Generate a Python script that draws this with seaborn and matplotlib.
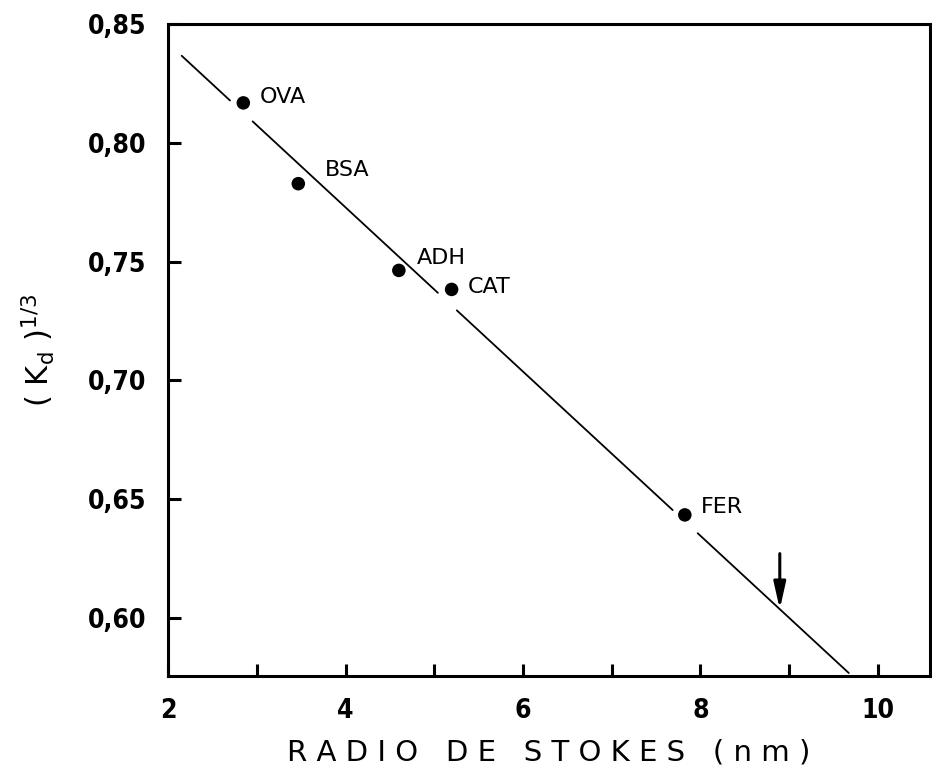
import matplotlib
matplotlib.use("Agg")
import matplotlib.pyplot as plt
from matplotlib.ticker import FixedLocator
import pandas as pd
import seaborn as sns

# Calibration proteins: Stokes radius (nm) vs cube root of Kd
proteins = ["OVA", "BSA", "ADH", "CAT", "FER"]
stokes_radius = [2.846, 3.466, 4.60, 5.195, 7.825]
kd_cuberoot = [0.8168, 0.7828, 0.7463, 0.7383, 0.6434]

# Label offsets (pixels) from each point
label_dx = [16, 27, 18, 16, 16]
label_dy = [6, 14, 12, 2, 8]

# Calibration line and its drawn pieces (gaps around the labels)
fit_slope = -0.03453
fit_intercept = 0.9109
segment_starts = [2.151, 2.951, 5.254, 7.97]
segment_ends = [2.696, 5.04, 7.688, 9.674]

# Unknown sample marked with an arrow
unknown_radius = 8.896
arrow_top = 0.6271

x_ticks = [2, 4, 6, 8, 10]
x_minor = [3, 5, 7, 9]
y_ticks = [0.60, 0.65, 0.70, 0.75, 0.80, 0.85]
y_labels = ["0,60", "0,65", "0,70", "0,75", "0,80", "0,85"]

sns.set_style("ticks")
plt.rcParams["font.family"] = ["DejaVu Sans"]
plt.rcParams["text.color"] = "black"
plt.rcParams["axes.labelcolor"] = "black"
plt.rcParams["xtick.color"] = "black"
plt.rcParams["ytick.color"] = "black"

fig = plt.figure(figsize=(9.32, 7.76), dpi=100)
ax = fig.add_axes([168.3 / 932, 100 / 776, (930 - 168.3) / 932, (676 - 24) / 776])

seg_rows = []
for i, (a, b) in enumerate(zip(segment_starts, segment_ends)):
    for xv in (a, b):
        seg_rows.append({"x": xv, "y": fit_intercept + fit_slope * xv, "seg": i})
seg_df = pd.DataFrame(seg_rows)
sns.lineplot(data=seg_df, x="x", y="y", units="seg", estimator=None,
             color="black", lw=1.3, ax=ax, legend=False)

pts = pd.DataFrame({"r": stokes_radius, "k": kd_cuberoot, "p": proteins})
sns.scatterplot(data=pts, x="r", y="k", color="black", s=95, edgecolor="none",
                ax=ax, legend=False, zorder=3)

for name, xv, yv, dx, dy in zip(proteins, stokes_radius, kd_cuberoot, label_dx, label_dy):
    ax.annotate(name, (xv, yv), xytext=(dx * 0.72, dy * 0.72), textcoords="offset points",
                ha="left", va="center", fontsize=16, color="black")

ax.annotate("", xy=(unknown_radius, fit_intercept + fit_slope * unknown_radius),
            xytext=(unknown_radius, arrow_top),
            arrowprops=dict(arrowstyle="-|>,head_length=0.8,head_width=0.18",
                            color="black", lw=2.2, mutation_scale=20,
                            shrinkA=0, shrinkB=0))

ax.set_xlim(2, 10.59)
ax.set_ylim(0.5756, 0.85)
ax.xaxis.set_major_locator(FixedLocator(x_ticks))
ax.xaxis.set_minor_locator(FixedLocator(x_minor))
ax.yaxis.set_major_locator(FixedLocator(y_ticks))
ax.set_yticklabels(y_labels)
ax.set_xticklabels([str(t) for t in x_ticks])

for s in ax.spines.values():
    s.set_linewidth(2.2)
    s.set_color("black")
ax.tick_params(axis="both", which="both", direction="in", length=9, width=2.2,
               color="black")
ax.tick_params(axis="x", which="major", pad=16)
ax.tick_params(axis="y", which="major", pad=16)
for lab in ax.get_xticklabels() + ax.get_yticklabels():
    lab.set_fontweight("bold")
    lab.set_fontstretch("condensed")
    lab.set_fontsize(19)
    lab.set_color("black")

ax.set_xlabel("R A D I O   D E   S T O K E S   ( n m )", fontsize=21,
              labelpad=10, color="black")
ax.set_ylabel(r"$(\ \mathregular{K_d}\ )^{1/3}$", fontsize=22, labelpad=22,
              color="black")

fig.savefig("out.png", dpi=100)
